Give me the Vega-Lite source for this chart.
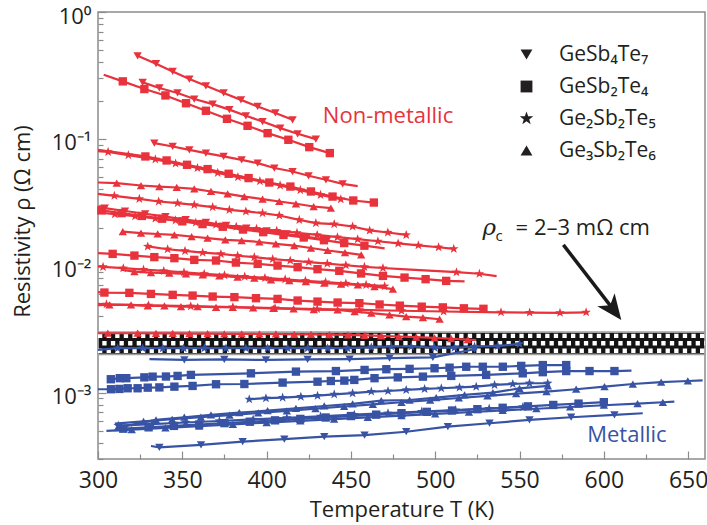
{
"$schema":"https://vega.github.io/schema/vega-lite/v6.json",
"width":607,"height":447,
"autosize":{"type":"none"},
"padding":{"left":98,"top":12,"right":2,"bottom":66},
"config":{"view":{"stroke":"#8c8c8c","strokeWidth":1.5},"font":"Open Sans",
"axis":{"labelFont":"Open Sans","titleFont":"Open Sans","labelColor":"#231f20","titleColor":"#231f20","titleFontWeight":"normal","domain":false,"grid":false,"tickColor":"#8c8c8c","tickWidth":1.2,"labelFlush":false}},
"encoding":{
"x":{"field":"T","type":"quantitative","scale":{"domain":[300,660],"nice":false,"zero":false},
"axis":{"title":"Temperature T (K)","titleFontSize":22,"titlePadding":7,"labelFontSize":23,"labelPadding":18,"values":[300,325,350,375,400,425,450,475,500,525,550,575,600,625,650],"labelExpr":"datum.value % 50 == 0 ? datum.label : ''","tickSize":{"condition":{"test":"datum.value % 50 == 0","value":-8},"value":-5}}},
"y":{"field":"r","type":"quantitative","scale":{"type":"log","domain":[0.0003,1],"nice":false},
"axis":{"title":"Resistivity ρ (Ω cm)","titleFontSize":22,"titleX":-76,"titleY":209,"titleBaseline":"middle","titleAlign":"center","titleAngle":270,"labelFontSize":22,"labelPadding":15,"labelOffset":4,"values":[0.0003,0.0004,0.0005,0.0006,0.0007,0.0008,0.0009,0.001,0.002,0.003,0.004,0.005,0.006,0.007,0.008,0.009,0.01,0.02,0.03,0.04,0.05,0.06,0.07,0.08,0.09,0.1,0.2,0.3,0.4,0.5,0.6,0.7,0.8,0.9,1],"labelExpr":"datum.value == 1 ? '10⁰' : datum.value == 0.1 ? '10⁻¹' : datum.value == 0.01 ? '10⁻²' : datum.value == 0.001 ? '10⁻³' : ''","tickSize":{"condition":{"test":"datum.value == 1 || datum.value == 0.1 || datum.value == 0.01 || datum.value == 0.001","value":-8},"value":-5}}}
},
"datasets":{"d":[
{"s":"r1","p":"n","g":"a","T":323.5,"r":0.452},{"s":"r1","p":"n","g":"a","T":334.4,"r":0.391},{"s":"r1","p":"n","g":"a","T":344.3,"r":0.340},{"s":"r1","p":"n","g":"a","T":354.2,"r":0.296},{"s":"r1","p":"n","g":"a","T":364.0,"r":0.262},{"s":"r1","p":"n","g":"a","T":374.5,"r":0.230},{"s":"r1","p":"n","g":"a","T":384.8,"r":0.203},{"s":"r1","p":"n","g":"a","T":394.7,"r":0.180},{"s":"r1","p":"n","g":"a","T":405.2,"r":0.160},{"s":"r1","p":"n","g":"a","T":415.4,"r":0.1415},
{"s":"r2","p":"n","g":"a","T":326.5,"r":0.279},{"s":"r2","p":"n","g":"a","T":336.4,"r":0.252},{"s":"r2","p":"n","g":"a","T":347.2,"r":0.230},{"s":"r2","p":"n","g":"a","T":357.1,"r":0.206},{"s":"r2","p":"n","g":"a","T":368.0,"r":0.188},{"s":"r2","p":"n","g":"a","T":377.9,"r":0.170},{"s":"r2","p":"n","g":"a","T":387.7,"r":0.152},{"s":"r2","p":"n","g":"a","T":397.6,"r":0.137},{"s":"r2","p":"n","g":"a","T":408.1,"r":0.1216},{"s":"r2","p":"n","g":"a","T":418.4,"r":0.1097},{"s":"r2","p":"n","g":"a","T":429.2,"r":0.0996},
{"s":"r3","p":"n","g":"b","T":303.4,"r":0.32,"m":0},{"s":"r3","p":"n","g":"b","T":314.7,"r":0.284},{"s":"r3","p":"n","g":"b","T":327.5,"r":0.247},{"s":"r3","p":"n","g":"b","T":340.0,"r":0.220},{"s":"r3","p":"n","g":"b","T":352.2,"r":0.191},{"s":"r3","p":"n","g":"b","T":364.0,"r":0.1666},{"s":"r3","p":"n","g":"b","T":376.5,"r":0.144},{"s":"r3","p":"n","g":"b","T":388.7,"r":0.1268},{"s":"r3","p":"n","g":"b","T":400.6,"r":0.111},{"s":"r3","p":"n","g":"b","T":412.9,"r":0.0984},{"s":"r3","p":"n","g":"b","T":425.3,"r":0.0861},{"s":"r3","p":"n","g":"b","T":437.5,"r":0.0773},
{"s":"r4","p":"n","g":"a","T":333.4,"r":0.0927},{"s":"r4","p":"n","g":"a","T":344.3,"r":0.0871},{"s":"r4","p":"n","g":"a","T":354.2,"r":0.0820},{"s":"r4","p":"n","g":"a","T":364.0,"r":0.0773},{"s":"r4","p":"n","g":"a","T":374.5,"r":0.0727},{"s":"r4","p":"n","g":"a","T":385.2,"r":0.0684},{"s":"r4","p":"n","g":"a","T":394.7,"r":0.0644},{"s":"r4","p":"n","g":"a","T":404.6,"r":0.0589},{"s":"r4","p":"n","g":"a","T":415.4,"r":0.0553},{"s":"r4","p":"n","g":"a","T":424.9,"r":0.0512},{"s":"r4","p":"n","g":"a","T":435.2,"r":0.0476},{"s":"r4","p":"n","g":"a","T":445.1,"r":0.0442},{"s":"r4","p":"n","g":"a","T":454.0,"r":0.0425,"m":0},
{"s":"r5","p":"n","g":"b","T":300,"r":0.082,"m":0},{"s":"r5","p":"n","g":"b","T":328.1,"r":0.0727},{"s":"r5","p":"n","g":"b","T":340.7,"r":0.0676},{"s":"r5","p":"n","g":"b","T":352.8,"r":0.0625},{"s":"r5","p":"n","g":"b","T":365.0,"r":0.0578},{"s":"r5","p":"n","g":"b","T":377.5,"r":0.0531},{"s":"r5","p":"n","g":"b","T":389.3,"r":0.0491},{"s":"r5","p":"n","g":"b","T":401.6,"r":0.0453},{"s":"r5","p":"n","g":"b","T":414.1,"r":0.0421},{"s":"r5","p":"n","g":"b","T":426.3,"r":0.0385},{"s":"r5","p":"n","g":"b","T":439.1,"r":0.0351},{"s":"r5","p":"n","g":"b","T":451.4,"r":0.0327},{"s":"r5","p":"n","g":"b","T":463.6,"r":0.0315},
{"s":"r6","p":"n","g":"c","T":300,"r":0.080,"m":0},{"s":"r6","p":"n","g":"c","T":306,"r":0.079},{"s":"r6","p":"n","g":"c","T":318,"r":0.0745},{"s":"r6","p":"n","g":"c","T":334,"r":0.069},{"s":"r6","p":"n","g":"c","T":346,"r":0.064},{"s":"r6","p":"n","g":"c","T":359,"r":0.059},{"s":"r6","p":"n","g":"c","T":371,"r":0.054},{"s":"r6","p":"n","g":"c","T":383,"r":0.050},{"s":"r6","p":"n","g":"c","T":396,"r":0.0465},{"s":"r6","p":"n","g":"c","T":408,"r":0.043},{"s":"r6","p":"n","g":"c","T":420,"r":0.0395},{"s":"r6","p":"n","g":"c","T":432,"r":0.0362},{"s":"r6","p":"n","g":"c","T":444,"r":0.0335},
{"s":"r7","p":"n","g":"d","T":300,"r":0.0453,"m":0},{"s":"r7","p":"n","g":"d","T":311.1,"r":0.0448},{"s":"r7","p":"n","g":"d","T":325.5,"r":0.0429},{"s":"r7","p":"n","g":"d","T":336.4,"r":0.0421},{"s":"r7","p":"n","g":"d","T":346.7,"r":0.0414},{"s":"r7","p":"n","g":"d","T":357.1,"r":0.0404},{"s":"r7","p":"n","g":"d","T":367.0,"r":0.0385},{"s":"r7","p":"n","g":"d","T":376.9,"r":0.0369},{"s":"r7","p":"n","g":"d","T":386.8,"r":0.0351},{"s":"r7","p":"n","g":"d","T":397.6,"r":0.0335},{"s":"r7","p":"n","g":"d","T":407.5,"r":0.0321},{"s":"r7","p":"n","g":"d","T":417.4,"r":0.0308},{"s":"r7","p":"n","g":"d","T":427.9,"r":0.0293},{"s":"r7","p":"n","g":"d","T":438.1,"r":0.0285},
{"s":"r8","p":"n","g":"c","T":300,"r":0.0369,"m":0},{"s":"r8","p":"n","g":"c","T":309.7,"r":0.0356},{"s":"r8","p":"n","g":"c","T":324.5,"r":0.0337},{"s":"r8","p":"n","g":"c","T":336.0,"r":0.0321},{"s":"r8","p":"n","g":"c","T":347.2,"r":0.0312},{"s":"r8","p":"n","g":"c","T":357.1,"r":0.0302},{"s":"r8","p":"n","g":"c","T":368.0,"r":0.0290},{"s":"r8","p":"n","g":"c","T":377.9,"r":0.0276},{"s":"r8","p":"n","g":"c","T":387.7,"r":0.0268},{"s":"r8","p":"n","g":"c","T":397.6,"r":0.0260},{"s":"r8","p":"n","g":"c","T":407.5,"r":0.0249},{"s":"r8","p":"n","g":"c","T":419.4,"r":0.0230},{"s":"r8","p":"n","g":"c","T":429.2,"r":0.0217},{"s":"r8","p":"n","g":"c","T":440.1,"r":0.0213},{"s":"r8","p":"n","g":"c","T":451.0,"r":0.0204},{"s":"r8","p":"n","g":"c","T":461.1,"r":0.0190},{"s":"r8","p":"n","g":"c","T":471.9,"r":0.0183},{"s":"r8","p":"n","g":"c","T":482.8,"r":0.0175},
{"s":"r9","p":"n","g":"a","T":300,"r":0.0292,"m":0},{"s":"r9","p":"n","g":"a","T":304,"r":0.0285},{"s":"r9","p":"n","g":"a","T":316,"r":0.0270},{"s":"r9","p":"n","g":"a","T":328,"r":0.0257},{"s":"r9","p":"n","g":"a","T":340,"r":0.0244},{"s":"r9","p":"n","g":"a","T":352,"r":0.0231},{"s":"r9","p":"n","g":"a","T":364,"r":0.0220},{"s":"r9","p":"n","g":"a","T":376,"r":0.0208},{"s":"r9","p":"n","g":"a","T":388,"r":0.0198},{"s":"r9","p":"n","g":"a","T":400,"r":0.0188},{"s":"r9","p":"n","g":"a","T":412,"r":0.0178},{"s":"r9","p":"n","g":"a","T":424,"r":0.0169},{"s":"r9","p":"n","g":"a","T":436,"r":0.0160},
{"s":"r10","p":"n","g":"b","T":300,"r":0.0275,"m":0},{"s":"r10","p":"n","g":"b","T":302,"r":0.0273},{"s":"r10","p":"n","g":"b","T":314,"r":0.0260},{"s":"r10","p":"n","g":"b","T":326,"r":0.0247},{"s":"r10","p":"n","g":"b","T":338,"r":0.0235},{"s":"r10","p":"n","g":"b","T":350,"r":0.0224},{"s":"r10","p":"n","g":"b","T":362,"r":0.0213},{"s":"r10","p":"n","g":"b","T":374,"r":0.0203},{"s":"r10","p":"n","g":"b","T":386,"r":0.0193},{"s":"r10","p":"n","g":"b","T":398,"r":0.0184},{"s":"r10","p":"n","g":"b","T":410,"r":0.0175},{"s":"r10","p":"n","g":"b","T":422,"r":0.0167},{"s":"r10","p":"n","g":"b","T":434,"r":0.0159},{"s":"r10","p":"n","g":"b","T":446,"r":0.0151},{"s":"r10","p":"n","g":"b","T":458,"r":0.0144},{"s":"r10","p":"n","g":"b","T":470,"r":0.0137,"m":0},
{"s":"r11","p":"n","g":"c","T":300,"r":0.0263,"m":0},{"s":"r11","p":"n","g":"c","T":310,"r":0.0255},{"s":"r11","p":"n","g":"c","T":322,"r":0.0246},{"s":"r11","p":"n","g":"c","T":334,"r":0.0236},{"s":"r11","p":"n","g":"c","T":346,"r":0.0228},{"s":"r11","p":"n","g":"c","T":358,"r":0.0219},{"s":"r11","p":"n","g":"c","T":370,"r":0.0211},{"s":"r11","p":"n","g":"c","T":382,"r":0.0203},{"s":"r11","p":"n","g":"c","T":394,"r":0.0196},{"s":"r11","p":"n","g":"c","T":406,"r":0.0189},{"s":"r11","p":"n","g":"c","T":418,"r":0.0182},{"s":"r11","p":"n","g":"c","T":430,"r":0.0175},{"s":"r11","p":"n","g":"c","T":442,"r":0.0168},{"s":"r11","p":"n","g":"c","T":454,"r":0.0162},{"s":"r11","p":"n","g":"c","T":466,"r":0.0156},{"s":"r11","p":"n","g":"c","T":478,"r":0.0150},{"s":"r11","p":"n","g":"c","T":490,"r":0.0145},{"s":"r11","p":"n","g":"c","T":502,"r":0.0140},{"s":"r11","p":"n","g":"c","T":511,"r":0.0136},
{"s":"r12","p":"n","g":"d","T":314.7,"r":0.0186},{"s":"r12","p":"n","g":"d","T":325.5,"r":0.0181},{"s":"r12","p":"n","g":"d","T":335.4,"r":0.0178},{"s":"r12","p":"n","g":"d","T":345.3,"r":0.0175},{"s":"r12","p":"n","g":"d","T":355.5,"r":0.0170},{"s":"r12","p":"n","g":"d","T":365,"r":0.0165},{"s":"r12","p":"n","g":"d","T":375.5,"r":0.0160},{"s":"r12","p":"n","g":"d","T":385.2,"r":0.0158},{"s":"r12","p":"n","g":"d","T":395.7,"r":0.0154},{"s":"r12","p":"n","g":"d","T":405.5,"r":0.0149},{"s":"r12","p":"n","g":"d","T":416.4,"r":0.0144},{"s":"r12","p":"n","g":"d","T":426.3,"r":0.0138},{"s":"r12","p":"n","g":"d","T":436.2,"r":0.0132},{"s":"r12","p":"n","g":"d","T":446.5,"r":0.0127},{"s":"r12","p":"n","g":"d","T":456.1,"r":0.0122},
{"s":"r13","p":"n","g":"c","T":329.5,"r":0.0142},{"s":"r13","p":"n","g":"c","T":341.3,"r":0.0135},{"s":"r13","p":"n","g":"c","T":351.6,"r":0.0131},{"s":"r13","p":"n","g":"c","T":362.1,"r":0.0127},{"s":"r13","p":"n","g":"c","T":372.9,"r":0.0124},{"s":"r13","p":"n","g":"c","T":382.8,"r":0.0120},{"s":"r13","p":"n","g":"c","T":392.7,"r":0.0117},{"s":"r13","p":"n","g":"c","T":403.6,"r":0.0113},{"s":"r13","p":"n","g":"c","T":414,"r":0.0110},{"s":"r13","p":"n","g":"c","T":425,"r":0.0107},{"s":"r13","p":"n","g":"c","T":436,"r":0.0104},{"s":"r13","p":"n","g":"c","T":447,"r":0.0101},{"s":"r13","p":"n","g":"c","T":458,"r":0.0098},{"s":"r13","p":"n","g":"c","T":469,"r":0.0096},{"s":"r13","p":"n","g":"c","T":480,"r":0.0094,"m":0},{"s":"r13","p":"n","g":"c","T":512.6,"r":0.0089},{"s":"r13","p":"n","g":"c","T":526.2,"r":0.00865},{"s":"r13","p":"n","g":"c","T":536.4,"r":0.0083,"m":0},
{"s":"r14","p":"n","g":"c","T":300,"r":0.0099,"m":0},{"s":"r14","p":"n","g":"c","T":303,"r":0.0098},{"s":"r14","p":"n","g":"c","T":315,"r":0.00957},{"s":"r14","p":"n","g":"c","T":327,"r":0.00933},{"s":"r14","p":"n","g":"c","T":339,"r":0.0091},{"s":"r14","p":"n","g":"c","T":351,"r":0.00887},{"s":"r14","p":"n","g":"c","T":363,"r":0.00865},{"s":"r14","p":"n","g":"c","T":375,"r":0.00843},{"s":"r14","p":"n","g":"c","T":387,"r":0.00822},{"s":"r14","p":"n","g":"c","T":399,"r":0.00802},{"s":"r14","p":"n","g":"c","T":411,"r":0.00782},{"s":"r14","p":"n","g":"c","T":423,"r":0.00762},{"s":"r14","p":"n","g":"c","T":435,"r":0.00743},{"s":"r14","p":"n","g":"c","T":447,"r":0.00725},{"s":"r14","p":"n","g":"c","T":459,"r":0.00707},{"s":"r14","p":"n","g":"c","T":470,"r":0.0069},
{"s":"r15","p":"n","g":"b","T":300,"r":0.0126,"m":0},{"s":"r15","p":"n","g":"b","T":308.7,"r":0.01241},{"s":"r15","p":"n","g":"b","T":321.6,"r":0.01203},{"s":"r15","p":"n","g":"b","T":333.4,"r":0.0117},{"s":"r15","p":"n","g":"b","T":345.3,"r":0.01148},{"s":"r15","p":"n","g":"b","T":357.1,"r":0.01113},{"s":"r15","p":"n","g":"b","T":370.0,"r":0.0110},{"s":"r15","p":"n","g":"b","T":381.8,"r":0.0106},{"s":"r15","p":"n","g":"b","T":394.7,"r":0.01035},{"s":"r15","p":"n","g":"b","T":406.5,"r":0.01004},{"s":"r15","p":"n","g":"b","T":418.4,"r":0.00975},{"s":"r15","p":"n","g":"b","T":430.2,"r":0.0094},{"s":"r15","p":"n","g":"b","T":443.1,"r":0.00912},{"s":"r15","p":"n","g":"b","T":456,"r":0.0087},{"s":"r15","p":"n","g":"b","T":469,"r":0.00832},{"s":"r15","p":"n","g":"b","T":481.8,"r":0.00807},{"s":"r15","p":"n","g":"b","T":494.3,"r":0.00784},{"s":"r15","p":"n","g":"b","T":506.5,"r":0.0076},{"s":"r15","p":"n","g":"b","T":517.4,"r":0.00753,"m":0},
{"s":"r16","p":"n","g":"d","T":313.5,"r":0.0093,"m":0},{"s":"r16","p":"n","g":"d","T":321.6,"r":0.0090},{"s":"r16","p":"n","g":"d","T":331.4,"r":0.00884},{"s":"r16","p":"n","g":"d","T":342.3,"r":0.00874},{"s":"r16","p":"n","g":"d","T":352.2,"r":0.00863},{"s":"r16","p":"n","g":"d","T":362.1,"r":0.00848},{"s":"r16","p":"n","g":"d","T":372.0,"r":0.00832},{"s":"r16","p":"n","g":"d","T":382.8,"r":0.00813},{"s":"r16","p":"n","g":"d","T":392.7,"r":0.00798},{"s":"r16","p":"n","g":"d","T":402.6,"r":0.00774},{"s":"r16","p":"n","g":"d","T":413.5,"r":0.00764},{"s":"r16","p":"n","g":"d","T":423.3,"r":0.0075},{"s":"r16","p":"n","g":"d","T":434.2,"r":0.0073},{"s":"r16","p":"n","g":"d","T":444.1,"r":0.00718},{"s":"r16","p":"n","g":"d","T":454.1,"r":0.00707},{"s":"r16","p":"n","g":"d","T":464.0,"r":0.00686},{"s":"r16","p":"n","g":"d","T":474.9,"r":0.00654},
{"s":"r17","p":"n","g":"b","T":300,"r":0.0062,"m":0},{"s":"r17","p":"n","g":"b","T":303.8,"r":0.00615},{"s":"r17","p":"n","g":"b","T":318.6,"r":0.00612},{"s":"r17","p":"n","g":"b","T":331.4,"r":0.0060},{"s":"r17","p":"n","g":"b","T":344.3,"r":0.0059},{"s":"r17","p":"n","g":"b","T":356.1,"r":0.00582},{"s":"r17","p":"n","g":"b","T":368.0,"r":0.00572},{"s":"r17","p":"n","g":"b","T":380.9,"r":0.00566},{"s":"r17","p":"n","g":"b","T":393.7,"r":0.00555},{"s":"r17","p":"n","g":"b","T":406.5,"r":0.00548},{"s":"r17","p":"n","g":"b","T":418.4,"r":0.00532},{"s":"r17","p":"n","g":"b","T":430.2,"r":0.00522},{"s":"r17","p":"n","g":"b","T":442.1,"r":0.00513},{"s":"r17","p":"n","g":"b","T":455,"r":0.00507},{"s":"r17","p":"n","g":"b","T":467,"r":0.00495},{"s":"r17","p":"n","g":"b","T":479,"r":0.00485},{"s":"r17","p":"n","g":"b","T":492,"r":0.00476},{"s":"r17","p":"n","g":"b","T":504.5,"r":0.0047},{"s":"r17","p":"n","g":"b","T":517,"r":0.00462},{"s":"r17","p":"n","g":"b","T":528.6,"r":0.00458},
{"s":"r18","p":"n","g":"c","T":300,"r":0.0050,"m":0},{"s":"r18","p":"n","g":"c","T":305,"r":0.00497},{"s":"r18","p":"n","g":"c","T":330,"r":0.00488},{"s":"r18","p":"n","g":"c","T":355,"r":0.00480},{"s":"r18","p":"n","g":"c","T":380,"r":0.00472},{"s":"r18","p":"n","g":"c","T":405,"r":0.00464},{"s":"r18","p":"n","g":"c","T":430,"r":0.00456},{"s":"r18","p":"n","g":"c","T":455,"r":0.00449},{"s":"r18","p":"n","g":"c","T":480,"r":0.00442},{"s":"r18","p":"n","g":"c","T":505,"r":0.00436},{"s":"r18","p":"n","g":"c","T":539,"r":0.0043},{"s":"r18","p":"n","g":"c","T":556,"r":0.00428},{"s":"r18","p":"n","g":"c","T":574,"r":0.00426},{"s":"r18","p":"n","g":"c","T":589.5,"r":0.0043},
{"s":"r19","p":"n","g":"d","T":300,"r":0.0049,"m":0},{"s":"r19","p":"n","g":"d","T":306.8,"r":0.00492},{"s":"r19","p":"n","g":"d","T":319.6,"r":0.00492},{"s":"r19","p":"n","g":"d","T":329.5,"r":0.00483},{"s":"r19","p":"n","g":"d","T":339.4,"r":0.00483},{"s":"r19","p":"n","g":"d","T":349.2,"r":0.00477},{"s":"r19","p":"n","g":"d","T":359.1,"r":0.00477},{"s":"r19","p":"n","g":"d","T":370.0,"r":0.00471},{"s":"r19","p":"n","g":"d","T":379.9,"r":0.00471},{"s":"r19","p":"n","g":"d","T":392,"r":0.00466},{"s":"r19","p":"n","g":"d","T":404,"r":0.00462},{"s":"r19","p":"n","g":"d","T":416,"r":0.00457},{"s":"r19","p":"n","g":"d","T":428,"r":0.00452},{"s":"r19","p":"n","g":"d","T":442.1,"r":0.00449},{"s":"r19","p":"n","g":"d","T":452.2,"r":0.00435},{"s":"r19","p":"n","g":"d","T":462.1,"r":0.00423},{"s":"r19","p":"n","g":"d","T":472.9,"r":0.0041},{"s":"r19","p":"n","g":"d","T":482.8,"r":0.00397},{"s":"r19","p":"n","g":"d","T":492.7,"r":0.0039},{"s":"r19","p":"n","g":"d","T":502.6,"r":0.00379},
{"s":"r20","p":"n","g":"d","T":300,"r":0.00294,"m":0},{"s":"r20","p":"n","g":"d","T":305.8,"r":0.00294},{"s":"r20","p":"n","g":"d","T":323.5,"r":0.00294},{"s":"r20","p":"n","g":"d","T":334.4,"r":0.00293},{"s":"r20","p":"n","g":"d","T":344.3,"r":0.00293},{"s":"r20","p":"n","g":"d","T":354.2,"r":0.00292},{"s":"r20","p":"n","g":"d","T":365,"r":0.00292},{"s":"r20","p":"n","g":"d","T":374.9,"r":0.00291},{"s":"r20","p":"n","g":"d","T":385.2,"r":0.00291},{"s":"r20","p":"n","g":"d","T":395.7,"r":0.0029},{"s":"r20","p":"n","g":"d","T":405.5,"r":0.0029},{"s":"r20","p":"n","g":"d","T":416.4,"r":0.00288},{"s":"r20","p":"n","g":"d","T":426.3,"r":0.00288},{"s":"r20","p":"n","g":"d","T":437.2,"r":0.00287},{"s":"r20","p":"n","g":"d","T":448.2,"r":0.00285},{"s":"r20","p":"n","g":"d","T":458.1,"r":0.00283},{"s":"r20","p":"n","g":"d","T":468,"r":0.0028},{"s":"r20","p":"n","g":"d","T":478.4,"r":0.00277},{"s":"r20","p":"n","g":"d","T":488.7,"r":0.00274},{"s":"r20","p":"n","g":"d","T":499.6,"r":0.0027},{"s":"r20","p":"n","g":"d","T":509.5,"r":0.00266},{"s":"r20","p":"n","g":"d","T":519.3,"r":0.00262},{"s":"r20","p":"n","g":"d","T":524.3,"r":0.0026,"m":0},
{"s":"b1","p":"m","g":"c","T":300,"r":0.00217,"m":0},{"s":"b1","p":"m","g":"c","T":311.7,"r":0.00224},{"s":"b1","p":"m","g":"c","T":326.5,"r":0.00224},{"s":"b1","p":"m","g":"c","T":338.4,"r":0.00224},{"s":"b1","p":"m","g":"c","T":350.8,"r":0.00224},{"s":"b1","p":"m","g":"c","T":363.1,"r":0.00224},{"s":"b1","p":"m","g":"c","T":375.9,"r":0.00224},{"s":"b1","p":"m","g":"c","T":387.7,"r":0.00224},{"s":"b1","p":"m","g":"c","T":400.6,"r":0.00224},{"s":"b1","p":"m","g":"c","T":412.5,"r":0.00224},{"s":"b1","p":"m","g":"c","T":424.3,"r":0.00224},{"s":"b1","p":"m","g":"c","T":436.2,"r":0.00224},{"s":"b1","p":"m","g":"c","T":448,"r":0.00224},{"s":"b1","p":"m","g":"c","T":462.1,"r":0.00228},{"s":"b1","p":"m","g":"c","T":473.9,"r":0.00231},{"s":"b1","p":"m","g":"c","T":485.8,"r":0.00231},{"s":"b1","p":"m","g":"c","T":499.6,"r":0.00226},{"s":"b1","p":"m","g":"c","T":511.4,"r":0.00226},{"s":"b1","p":"m","g":"c","T":523.3,"r":0.00231},{"s":"b1","p":"m","g":"c","T":537.1,"r":0.00233},{"s":"b1","p":"m","g":"c","T":550,"r":0.00242},
{"s":"b2","p":"m","g":"a","T":330.5,"r":0.00184,"m":0},{"s":"b2","p":"m","g":"a","T":351.2,"r":0.00181},{"s":"b2","p":"m","g":"a","T":374.9,"r":0.00183},{"s":"b2","p":"m","g":"a","T":399.6,"r":0.00181},{"s":"b2","p":"m","g":"a","T":424.3,"r":0.00183},{"s":"b2","p":"m","g":"a","T":449.2,"r":0.00184},{"s":"b2","p":"m","g":"a","T":472.9,"r":0.00187},{"s":"b2","p":"m","g":"a","T":498.6,"r":0.0019},{"s":"b2","p":"m","g":"a","T":523.3,"r":0.0022},
{"s":"b3","p":"m","g":"b","T":307.6,"r":0.001276},{"s":"b3","p":"m","g":"b","T":312.9,"r":0.0013},{"s":"b3","p":"m","g":"b","T":316.8,"r":0.0013},{"s":"b3","p":"m","g":"b","T":327.5,"r":0.00132},{"s":"b3","p":"m","g":"b","T":332.4,"r":0.001337},{"s":"b3","p":"m","g":"b","T":340.3,"r":0.00134},{"s":"b3","p":"m","g":"b","T":347.2,"r":0.001355},{"s":"b3","p":"m","g":"b","T":355.1,"r":0.00138},{"s":"b3","p":"m","g":"b","T":390.7,"r":0.00142},{"s":"b3","p":"m","g":"b","T":417.4,"r":0.001465},{"s":"b3","p":"m","g":"b","T":441.1,"r":0.00148},{"s":"b3","p":"m","g":"b","T":458.1,"r":0.00151},{"s":"b3","p":"m","g":"b","T":471.0,"r":0.00153},{"s":"b3","p":"m","g":"b","T":484.8,"r":0.00154},{"s":"b3","p":"m","g":"b","T":499.6,"r":0.001557},{"s":"b3","p":"m","g":"b","T":508.5,"r":0.001574},{"s":"b3","p":"m","g":"b","T":518.4,"r":0.0016},{"s":"b3","p":"m","g":"b","T":528.2,"r":0.0016},{"s":"b3","p":"m","g":"b","T":540.1,"r":0.0016},{"s":"b3","p":"m","g":"b","T":551.0,"r":0.001625},{"s":"b3","p":"m","g":"b","T":563.8,"r":0.00165},{"s":"b3","p":"m","g":"b","T":577.7,"r":0.00165},
{"s":"b4","p":"m","g":"b","T":300,"r":0.001064,"m":0},{"s":"b4","p":"m","g":"b","T":307.7,"r":0.001064},{"s":"b4","p":"m","g":"b","T":312.7,"r":0.00107},{"s":"b4","p":"m","g":"b","T":317.6,"r":0.001083},{"s":"b4","p":"m","g":"b","T":323.5,"r":0.001083},{"s":"b4","p":"m","g":"b","T":329.5,"r":0.001095},{"s":"b4","p":"m","g":"b","T":336.4,"r":0.0011},{"s":"b4","p":"m","g":"b","T":345.3,"r":0.001115},{"s":"b4","p":"m","g":"b","T":356.1,"r":0.00113},{"s":"b4","p":"m","g":"b","T":370.0,"r":0.001165},{"s":"b4","p":"m","g":"b","T":386.8,"r":0.00117},{"s":"b4","p":"m","g":"b","T":409.5,"r":0.0012},{"s":"b4","p":"m","g":"b","T":430.2,"r":0.00122},{"s":"b4","p":"m","g":"b","T":438.1,"r":0.001236},{"s":"b4","p":"m","g":"b","T":446.1,"r":0.001244},{"s":"b4","p":"m","g":"b","T":452.0,"r":0.00126},{"s":"b4","p":"m","g":"b","T":464.0,"r":0.0013},{"s":"b4","p":"m","g":"b","T":477.8,"r":0.00132},{"s":"b4","p":"m","g":"b","T":492.7,"r":0.001337},{"s":"b4","p":"m","g":"b","T":509.5,"r":0.001355},{"s":"b4","p":"m","g":"b","T":530.2,"r":0.00138},{"s":"b4","p":"m","g":"b","T":551.9,"r":0.00142},{"s":"b4","p":"m","g":"b","T":563.8,"r":0.00145},{"s":"b4","p":"m","g":"b","T":577.7,"r":0.00148},{"s":"b4","p":"m","g":"b","T":591.5,"r":0.00148},{"s":"b4","p":"m","g":"b","T":606.3,"r":0.00148},{"s":"b4","p":"m","g":"b","T":616.4,"r":0.00149,"m":0},
{"s":"b5","p":"m","g":"c","T":389.7,"r":0.000887},{"s":"b5","p":"m","g":"c","T":399.6,"r":0.000904},{"s":"b5","p":"m","g":"c","T":409.5,"r":0.000914},{"s":"b5","p":"m","g":"c","T":420.3,"r":0.00093},{"s":"b5","p":"m","g":"c","T":430.2,"r":0.000947},{"s":"b5","p":"m","g":"c","T":440.1,"r":0.00097},{"s":"b5","p":"m","g":"c","T":451.0,"r":0.00099},{"s":"b5","p":"m","g":"c","T":462.1,"r":0.00102},{"s":"b5","p":"m","g":"c","T":472.0,"r":0.00103},{"s":"b5","p":"m","g":"c","T":482.8,"r":0.00105},{"s":"b5","p":"m","g":"c","T":493.7,"r":0.00107},{"s":"b5","p":"m","g":"c","T":503.6,"r":0.001083},{"s":"b5","p":"m","g":"c","T":514.4,"r":0.0011},{"s":"b5","p":"m","g":"c","T":524.3,"r":0.001115},{"s":"b5","p":"m","g":"c","T":535.2,"r":0.00115},{"s":"b5","p":"m","g":"c","T":546.0,"r":0.00117},{"s":"b5","p":"m","g":"c","T":555.9,"r":0.001186},{"s":"b5","p":"m","g":"c","T":566.7,"r":0.001186},
{"s":"b6","p":"m","g":"d","T":311.7,"r":0.00053},{"s":"b6","p":"m","g":"d","T":334.4,"r":0.00061},{"s":"b6","p":"m","g":"d","T":351.2,"r":0.00064},{"s":"b6","p":"m","g":"d","T":367.0,"r":0.000667},{"s":"b6","p":"m","g":"d","T":383.8,"r":0.000695},{"s":"b6","p":"m","g":"d","T":400.6,"r":0.000721},{"s":"b6","p":"m","g":"d","T":417.4,"r":0.000753},{"s":"b6","p":"m","g":"d","T":434.2,"r":0.000785},{"s":"b6","p":"m","g":"d","T":451.0,"r":0.000815},{"s":"b6","p":"m","g":"d","T":468,"r":0.000865},{"s":"b6","p":"m","g":"d","T":484.8,"r":0.000875},{"s":"b6","p":"m","g":"d","T":500.6,"r":0.000914},{"s":"b6","p":"m","g":"d","T":517.4,"r":0.00096},{"s":"b6","p":"m","g":"d","T":534.2,"r":0.001},{"s":"b6","p":"m","g":"d","T":550,"r":0.00108},{"s":"b6","p":"m","g":"d","T":566.8,"r":0.00113},
{"s":"b7","p":"m","g":"d","T":310,"r":0.00057,"m":0},{"s":"b7","p":"m","g":"d","T":327,"r":0.000593},{"s":"b7","p":"m","g":"d","T":344,"r":0.000617},{"s":"b7","p":"m","g":"d","T":361,"r":0.000641},{"s":"b7","p":"m","g":"d","T":378,"r":0.000666},{"s":"b7","p":"m","g":"d","T":395,"r":0.000692},{"s":"b7","p":"m","g":"d","T":412,"r":0.000719},{"s":"b7","p":"m","g":"d","T":429,"r":0.000748},{"s":"b7","p":"m","g":"d","T":446,"r":0.000778},{"s":"b7","p":"m","g":"d","T":463,"r":0.000809},{"s":"b7","p":"m","g":"d","T":480,"r":0.00084},{"s":"b7","p":"m","g":"d","T":497,"r":0.000873},{"s":"b7","p":"m","g":"d","T":514,"r":0.000908},{"s":"b7","p":"m","g":"d","T":531,"r":0.000944},{"s":"b7","p":"m","g":"d","T":548,"r":0.000982},{"s":"b7","p":"m","g":"d","T":566,"r":0.00102},{"s":"b7","p":"m","g":"d","T":583.6,"r":0.001064},{"s":"b7","p":"m","g":"d","T":600.4,"r":0.001115},{"s":"b7","p":"m","g":"d","T":617.2,"r":0.00117},{"s":"b7","p":"m","g":"d","T":634.0,"r":0.00121},{"s":"b7","p":"m","g":"d","T":649.8,"r":0.001236},{"s":"b7","p":"m","g":"d","T":658.6,"r":0.00125,"m":0},
{"s":"b8","p":"m","g":"d","T":305,"r":0.0005,"m":0},{"s":"b8","p":"m","g":"d","T":320,"r":0.000512},{"s":"b8","p":"m","g":"d","T":340,"r":0.000528},{"s":"b8","p":"m","g":"d","T":360,"r":0.000545},{"s":"b8","p":"m","g":"d","T":380,"r":0.000562},{"s":"b8","p":"m","g":"d","T":400,"r":0.000581},{"s":"b8","p":"m","g":"d","T":420,"r":0.0006},{"s":"b8","p":"m","g":"d","T":440,"r":0.000619},{"s":"b8","p":"m","g":"d","T":460,"r":0.000638},{"s":"b8","p":"m","g":"d","T":480,"r":0.000659},{"s":"b8","p":"m","g":"d","T":500,"r":0.00068},{"s":"b8","p":"m","g":"d","T":520,"r":0.000702},{"s":"b8","p":"m","g":"d","T":540,"r":0.000724},{"s":"b8","p":"m","g":"d","T":560,"r":0.000747},{"s":"b8","p":"m","g":"d","T":580,"r":0.000771},{"s":"b8","p":"m","g":"d","T":600,"r":0.000796},{"s":"b8","p":"m","g":"d","T":620,"r":0.00082},{"s":"b8","p":"m","g":"d","T":635,"r":0.00084},{"s":"b8","p":"m","g":"d","T":641.8,"r":0.00085,"m":0},
{"s":"b9","p":"m","g":"b","T":315,"r":0.00052},{"s":"b9","p":"m","g":"b","T":330,"r":0.000533},{"s":"b9","p":"m","g":"b","T":345,"r":0.000547},{"s":"b9","p":"m","g":"b","T":360,"r":0.000561},{"s":"b9","p":"m","g":"b","T":375,"r":0.000575},{"s":"b9","p":"m","g":"b","T":390,"r":0.00059},{"s":"b9","p":"m","g":"b","T":405,"r":0.000605},{"s":"b9","p":"m","g":"b","T":420,"r":0.000621},{"s":"b9","p":"m","g":"b","T":435,"r":0.000637},{"s":"b9","p":"m","g":"b","T":450,"r":0.000654},{"s":"b9","p":"m","g":"b","T":465,"r":0.000671},{"s":"b9","p":"m","g":"b","T":480,"r":0.000689},{"s":"b9","p":"m","g":"b","T":495,"r":0.000706},{"s":"b9","p":"m","g":"b","T":510,"r":0.000723},{"s":"b9","p":"m","g":"b","T":525,"r":0.000741},{"s":"b9","p":"m","g":"b","T":540,"r":0.00076},{"s":"b9","p":"m","g":"b","T":555,"r":0.00078},{"s":"b9","p":"m","g":"b","T":570,"r":0.0008},{"s":"b9","p":"m","g":"b","T":585,"r":0.00082},{"s":"b9","p":"m","g":"b","T":600,"r":0.000841},
{"s":"b10","p":"m","g":"c","T":312,"r":0.00055},{"s":"b10","p":"m","g":"c","T":332,"r":0.000565},{"s":"b10","p":"m","g":"c","T":352,"r":0.000582},{"s":"b10","p":"m","g":"c","T":372,"r":0.000598},{"s":"b10","p":"m","g":"c","T":392,"r":0.000615},{"s":"b10","p":"m","g":"c","T":412,"r":0.000633},{"s":"b10","p":"m","g":"c","T":432,"r":0.000651},{"s":"b10","p":"m","g":"c","T":452,"r":0.00067},{"s":"b10","p":"m","g":"c","T":472,"r":0.000689},{"s":"b10","p":"m","g":"c","T":492,"r":0.000709},{"s":"b10","p":"m","g":"c","T":512,"r":0.000729},{"s":"b10","p":"m","g":"c","T":532,"r":0.00075},{"s":"b10","p":"m","g":"c","T":552,"r":0.000771},
{"s":"b11","p":"m","g":"a","T":331.4,"r":0.00038,"m":0},{"s":"b11","p":"m","g":"a","T":336.4,"r":0.000371},{"s":"b11","p":"m","g":"a","T":361.1,"r":0.000387},{"s":"b11","p":"m","g":"a","T":385.8,"r":0.000411},{"s":"b11","p":"m","g":"a","T":410.5,"r":0.000431},{"s":"b11","p":"m","g":"a","T":434.2,"r":0.00045},{"s":"b11","p":"m","g":"a","T":458.1,"r":0.000462},{"s":"b11","p":"m","g":"a","T":482.8,"r":0.000492},{"s":"b11","p":"m","g":"a","T":507.5,"r":0.00054},{"s":"b11","p":"m","g":"a","T":532.2,"r":0.000574},{"s":"b11","p":"m","g":"a","T":555.9,"r":0.00061},{"s":"b11","p":"m","g":"a","T":580.6,"r":0.00064},{"s":"b11","p":"m","g":"a","T":606.3,"r":0.000667},{"s":"b11","p":"m","g":"a","T":623.1,"r":0.000688,"m":0}
]},
"layer":[
{"data":{"values":[{"T":300,"T2":660,"r":0.002,"r2":0.003}]},
 "mark":{"type":"rect","fill":"#141414","stroke":"#a0a0a0","strokeWidth":1.8},
 "encoding":{"x2":{"field":"T2"},"y2":{"field":"r2"}}},
{"data":{"values":[{"T":300,"T2":660,"r":0.0028},{"T":300,"T2":660,"r":0.00214}]},
 "mark":{"type":"rule","color":"#ffffff","strokeWidth":4.4,"strokeDash":[4.3,4.3],"strokeCap":"butt"},
 "encoding":{"x2":{"field":"T2"}}},
{"data":{"values":[{"T":300,"T2":660,"r":0.002448}]},
 "mark":{"type":"rule","color":"#ffffff","strokeWidth":4.4,"strokeDash":[4.3,4.3],"strokeDashOffset":4.3,"strokeCap":"butt"},
 "encoding":{"x2":{"field":"T2"}}},
{"data":{"name":"d"},
 "mark":{"type":"line","strokeWidth":2.2},
 "encoding":{"detail":{"field":"s","type":"nominal"},
  "color":{"field":"p","type":"nominal","scale":{"domain":["n","m"],"range":["#e8323c","#3853a4"]},"legend":null}}},
{"data":{"name":"d"},
 "transform":[{"filter":"datum.m !== 0"}],
 "mark":{"type":"point","filled":true,"opacity":1,"strokeWidth":0,"size":70},
 "encoding":{
  "color":{"field":"p","type":"nominal","scale":{"domain":["n","m"],"range":["#e8323c","#3853a4"]},"legend":null},
  "shape":{"field":"g","type":"nominal","scale":{"domain":["a","b","c","d"],"range":["triangle-down","square","M0,-1.2L0.28,-0.39L1.14,-0.37L0.46,0.15L0.71,0.97L0,0.48L-0.71,0.97L-0.46,0.15L-1.14,-0.37L-0.28,-0.39Z","triangle-up"]},
   "legend":{"title":null,"orient":"none","legendX":418,"legendY":32,"padding":0,"offset":0,"labelFont":"Open Sans","labelFontSize":21,"labelColor":"#231f20","symbolSize":140,"symbolFillColor":"#231f20","symbolStrokeColor":"#231f20","symbolStrokeWidth":0,"rowPadding":10,"labelOffset":22,"labelExpr":"datum.label == 'a' ? 'GeSb₄Te₇' : datum.label == 'b' ? 'GeSb₂Te₄' : datum.label == 'c' ? 'Ge₂Sb₂Te₅' : 'Ge₃Sb₂Te₆'"}}}},
{"data":{"values":[{"T":472,"r":0.152,"t":"Non-metallic","c":"n"},{"T":613.7,"r":0.000464,"t":"Metallic","c":"m"}]},
 "mark":{"type":"text","fontSize":22,"font":"Open Sans","align":"center","baseline":"middle"},
 "encoding":{"text":{"field":"t"},"color":{"field":"c","type":"nominal","scale":{"domain":["n","m"],"range":["#e8323c","#3853a4"]},"legend":null}}},
{"data":{"values":[{"T":528.1,"r":0.01753,"t":"ρ"}]},
 "mark":{"type":"text","fontSize":23,"fontStyle":"italic","font":"DejaVu Serif","align":"left","baseline":"alphabetic","color":"#231f20"},
 "encoding":{"text":{"field":"t"}}},
{"data":{"values":[{"T":528.1,"r":0.01753,"t":"c"}]},
 "mark":{"type":"text","fontSize":15,"font":"Open Sans","align":"left","baseline":"alphabetic","dx":13,"dy":6,"color":"#231f20"},
 "encoding":{"text":{"field":"t"}}},
{"data":{"values":[{"T":528.1,"r":0.01753,"t":"= 2–3 mΩ cm"}]},
 "mark":{"type":"text","fontSize":22,"font":"Open Sans","align":"left","baseline":"alphabetic","dx":33,"color":"#231f20"},
 "encoding":{"text":{"field":"t"}}},
{"data":{"values":[{"T":576,"r":0.01462,"T2":605.8,"r2":0.00449}]},
 "mark":{"type":"rule","strokeWidth":3.5,"color":"#1a1a1a"},
 "encoding":{"x2":{"field":"T2"},"y2":{"field":"r2"}}},
{"data":{"values":[{"T":605.8,"r":0.00449}]},
 "mark":{"type":"point","filled":true,"opacity":1,"color":"#1a1a1a","strokeWidth":0,"size":650,"angle":-37,"shape":"M0,1L-0.85,-1L0,-0.45L0.85,-1Z"},
 "encoding":{}}
]
}
